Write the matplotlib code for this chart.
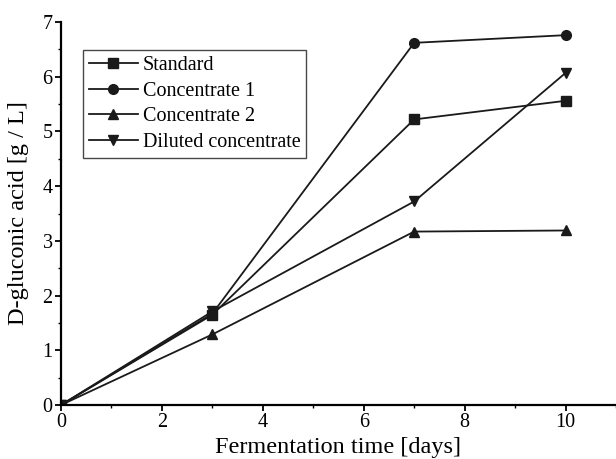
import matplotlib
matplotlib.use("Agg")
from matplotlib import pyplot as plt
from matplotlib.ticker import MultipleLocator

plt.rcParams['font.family'] = ['Liberation Serif', 'DejaVu Serif']

days = [0, 3, 7, 10]
standard = [0, 1.65, 5.22, 5.56]
concentrate_1 = [0, 1.67, 6.62, 6.76]
concentrate_2 = [0, 1.29, 3.17, 3.19]
diluted = [0, 1.71, 3.72, 6.07]

series = [
    ('Standard', standard, 's', 6.5),
    ('Concentrate 1', concentrate_1, 'o', 7),
    ('Concentrate 2', concentrate_2, '^', 7.5),
    ('Diluted concentrate', diluted, 'v', 7.5),
]

fig = plt.figure(figsize=(6.16, 4.59), dpi=100)
ax = fig.add_axes([0.099, 0.1176, 0.901, 0.8344])

for label, vals, marker, ms in series:
    ax.plot(days, vals, color='#1a1a1a', lw=1.3, marker=marker, markersize=ms,
            label=label)

ax.set_xlim(0, 11)
ax.set_ylim(0, 7)
ax.xaxis.set_major_locator(MultipleLocator(2))
ax.xaxis.set_minor_locator(MultipleLocator(1))
ax.yaxis.set_major_locator(MultipleLocator(1))
ax.yaxis.set_minor_locator(MultipleLocator(0.5))
ax.tick_params(which='major', direction='out', length=4, width=1.3, labelsize=14.5, pad=2)
ax.tick_params(which='minor', direction='out', length=2.5, width=1.0)

for side in ['top', 'right']:
    ax.spines[side].set_visible(False)
for side in ['left', 'bottom']:
    ax.spines[side].set_linewidth(1.6)

ax.set_xlabel('Fermentation time [days]', fontsize=17.5, labelpad=3)
ax.set_ylabel('D-gluconic acid [g / L]', fontsize=17.5, labelpad=10)

leg = ax.legend(loc='upper left', bbox_to_anchor=(0.04, 0.927), fontsize=14.5,
                frameon=True, fancybox=False, edgecolor='#1a1a1a',
                handlelength=2.4, handletextpad=0.25, borderpad=0.3,
                labelspacing=0.32, borderaxespad=0)
leg.get_frame().set_linewidth(1.0)

fig.savefig('out.png', dpi=100)
